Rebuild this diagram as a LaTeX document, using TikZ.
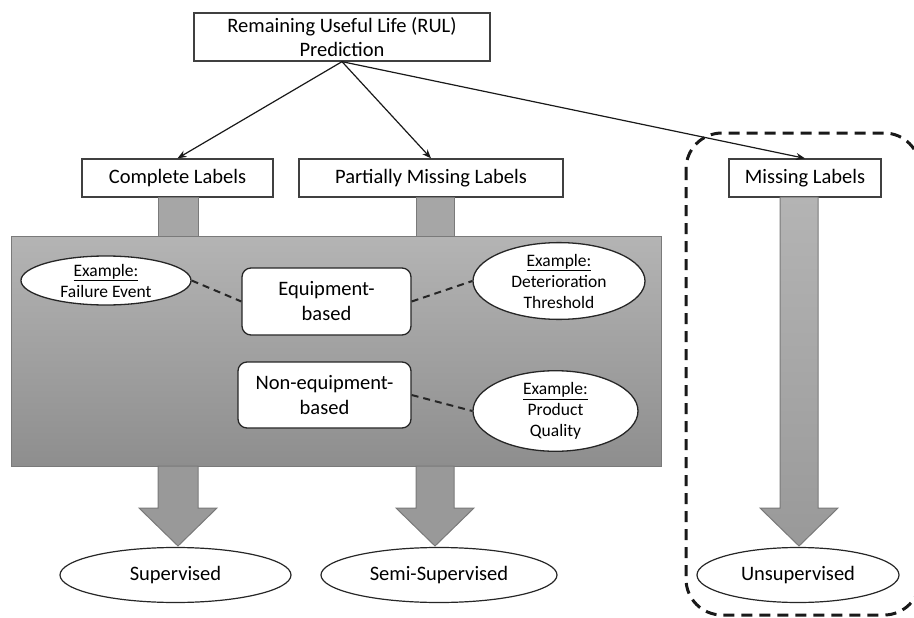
\documentclass[tikz,border=0pt]{standalone}
\usepackage{fontspec}
\setmainfont{Carlito}
\usetikzlibrary{shapes.geometric,arrows.meta,calc}
\definecolor{edgegray}{HTML}{404040}
\definecolor{boxtop}{HTML}{B4B4B4}
\definecolor{boxbot}{HTML}{8E8E8E}
\definecolor{barfill}{HTML}{A6A6A6}
\definecolor{arrfill}{HTML}{999999}
\definecolor{barline}{HTML}{7A7A7A}
\tikzset{
  bigfont/.style={font=\fontsize{20.5}{25}\selectfont},
  smallfont/.style={font=\fontsize{17.5}{21}\selectfont},
  labelbox/.style={draw=edgegray, line width=1.3pt, fill=white, inner sep=0pt, align=center, bigfont},
  catbox/.style={draw=black!85, line width=1.3pt, fill=white, rounded corners=9pt, inner sep=0pt, align=center, bigfont},
  exell/.style={ellipse, draw=black!85, line width=1.3pt, fill=white, inner sep=0pt, align=center, smallfont},
  resell/.style={ellipse, draw=black!85, line width=1.2pt, fill=white, inner sep=0pt, bigfont},
  tree/.style={draw=black!90, line width=1.2pt, -{Stealth[length=9pt,width=7pt]}},
  exlink/.style={draw=black!85, line width=2pt, dash pattern=on 7pt off 5pt},
  grpbox/.style={draw=black!90, line width=3pt, dash pattern=on 11pt off 7pt, rounded corners=36pt},
  bar/.style={fill=barfill, draw=barline, line width=1pt},
  blockarrow/.style={fill=arrfill, draw=barline, line width=1pt},
}
\begin{document}
\begin{tikzpicture}[x=1pt,y=-1pt]
\useasboundingbox (0,0) rectangle (914,618);

% dashed group box around unsupervised branch (right side lies just past the picture edge)
\begin{scope}
\clip (0,0) rectangle (914,618);
\draw[grpbox] (686,133) rectangle (920,615);
\end{scope}

% top node
\node[labelbox, minimum width=296pt, minimum height=48pt] (rul) at (342,37) {Remaining Useful Life (RUL)\\[-1pt]Prediction};

% label nodes
\node[labelbox, minimum width=191pt, minimum height=38pt] (cl) at (177.5,178) {Complete Labels};
\node[labelbox, minimum width=264pt, minimum height=38pt] (pm) at (431,178) {Partially Missing Labels};
\node[labelbox, minimum width=152pt, minimum height=38pt] (ml) at (805,178) {Missing Labels};

% tree arrows
\draw[tree] (rul.south) -- (cl.north);
\draw[tree] (rul.south) -- (pm.north);
\draw[tree] (rul.south) -- (ml.north);

% connector bars into the big box
\draw[bar] (158,197) rectangle (198,236);
\draw[bar] (416,197) rectangle (454,236);

% big shaded box
\node[draw=barline, line width=1pt, top color=boxtop, bottom color=boxbot, minimum width=650pt, minimum height=230pt, inner sep=0pt] (big) at (336,351) {};

% block arrows below the big box
\draw[blockarrow] (158,466) -- (198,466) -- (198,508) -- (217,508) -- (178,546) -- (139,508) -- (158,508) -- cycle;
\draw[blockarrow] (416,466) -- (454,466) -- (454,508) -- (474,508) -- (435,546) -- (396,508) -- (416,508) -- cycle;
\draw[draw=barline, line width=1pt, top color=boxtop, bottom color=arrfill] (780,197) -- (818,197) -- (818,508) -- (838,508) -- (799,546) -- (760,508) -- (780,508) -- cycle;

% categories
\node[catbox, minimum width=169pt, minimum height=67pt] (eq) at (326.5,301.5) {Equipment-\\based};
\node[catbox, minimum width=173pt, minimum height=66pt] (neq) at (324.5,395) {Non-equipment-\\based};

% example ellipses
\node[exell, minimum width=170pt, minimum height=49pt] (fe) at (106,280.5) {\underline{Example:}\\Failure Event};
\node[exell, minimum width=172pt, minimum height=66pt] (dt) at (559,281) {\underline{Example:}\\Deterioration\\Threshold};
\node[exell, minimum width=165pt, minimum height=70pt] (pq) at (555.5,411) {\underline{Example:}\\Product\\Quality};

\draw[exlink] (fe.east) -- (eq.west);
\draw[exlink] (eq.east) -- (dt.west);
\draw[exlink] (neq.east) -- (pq.west);

% result ellipses
\node[resell, minimum width=231pt, minimum height=55pt] (sup) at (175.5,575) {Supervised};
\node[resell, minimum width=236pt, minimum height=55pt] (semi) at (439,575) {Semi-Supervised};
\node[resell, minimum width=202pt, minimum height=55pt] (unsup) at (798,575) {Unsupervised};
\end{tikzpicture}
\end{document}
